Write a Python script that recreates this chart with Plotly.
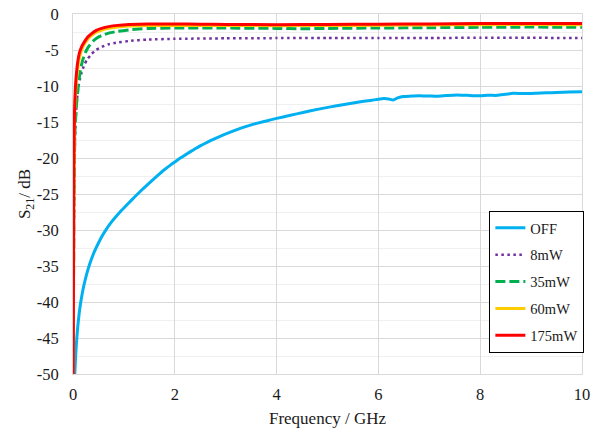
import plotly.graph_objects as go

# ---- data ----
off_f = [0.035, 0.045, 0.06, 0.075, 0.093, 0.11, 0.13, 0.16, 0.19, 0.22, 0.27, 0.32, 0.37, 0.42,
         0.48, 0.55, 0.65, 0.75, 0.85, 0.95, 1.08, 1.21, 1.34, 1.47, 1.6, 1.7, 1.8, 1.92, 2.0,
         2.1, 2.2, 2.3, 2.4, 2.5, 2.6, 2.7, 2.9, 3.09, 3.3, 3.55, 3.8, 4.0, 4.25, 4.54, 4.8,
         5.06, 5.3, 5.59, 5.84, 6.0, 6.1, 6.2, 6.29, 6.38, 6.49, 6.65, 6.8, 7.0, 7.15, 7.35,
         7.54, 7.75, 8.0, 8.15, 8.33, 8.5, 8.65, 8.85, 9.1, 9.3, 9.5, 9.75, 10.0]
off_db = [-50.0, -48.5, -46.5, -45.0, -43.5, -42.3, -41.1, -39.7, -38.5, -37.5, -36.1, -34.9,
          -33.9, -33.0, -32.1, -31.1, -29.95, -28.95, -28.1, -27.3, -26.35, -25.42, -24.52,
          -23.65, -22.82, -22.2, -21.6, -20.95, -20.55, -20.05, -19.6, -19.15, -18.72, -18.32,
          -17.95, -17.6, -16.95, -16.4, -15.85, -15.3, -14.85, -14.5, -14.1, -13.65, -13.25,
          -12.9, -12.6, -12.25, -12.0, -11.85, -11.75, -11.8, -11.95, -11.65, -11.45, -11.4,
          -11.35, -11.4, -11.42, -11.32, -11.25, -11.3, -11.35, -11.28, -11.3, -11.15, -11.02,
          -11.05, -11.0, -10.95, -10.9, -10.85, -10.8]

mw8_f = [0.005, 0.02, 0.04, 0.07, 0.1, 0.13, 0.17, 0.22, 0.28, 0.36, 0.45, 0.56, 0.7, 0.88,
         1.1, 1.47, 2.0, 3.0, 4.0, 5.0, 6.0, 7.0, 8.0, 9.0, 10.0]
mw8_db = [-50.0, -28.0, -17.0, -12.5, -10.4, -9.2, -8.1, -7.1, -6.3, -5.6, -5.0, -4.6, -4.2,
          -3.95, -3.75, -3.55, -3.45, -3.38, -3.35, -3.35, -3.33, -3.33, -3.3, -3.3, -3.35]

mw35_f = [0.005, 0.02, 0.04, 0.07, 0.1, 0.13, 0.16, 0.2, 0.26, 0.32, 0.39, 0.47, 0.56, 0.7,
          0.88, 1.1, 1.47, 2.0, 3.0, 4.0, 4.5, 5.0, 6.0, 7.0, 8.0, 9.0, 10.0]
mw35_db = [-50.0, -25.0, -16.0, -12.5, -10.3, -8.5, -7.3, -6.2, -5.1, -4.4, -3.8, -3.35, -3.0,
           -2.65, -2.4, -2.2, -2.0, -1.95, -1.95, -2.0, -2.05, -2.0, -1.95, -1.9, -1.85,
           -1.82, -1.85]

mw60_f = [0.005, 0.017, 0.035, 0.05, 0.07, 0.1, 0.13, 0.18, 0.23, 0.29, 0.36, 0.45, 0.56, 0.7,
          0.88, 1.1, 1.47, 2.0, 3.0, 4.0, 5.0, 6.0, 7.0, 8.0, 9.0, 10.0]
mw60_db = [-50.0, -23.0, -13.5, -11.0, -9.0, -7.2, -6.0, -4.8, -4.1, -3.5, -3.0, -2.55, -2.25,
           -2.0, -1.8, -1.68, -1.6, -1.58, -1.6, -1.62, -1.6, -1.57, -1.52, -1.48, -1.47, -1.48]

mw175_f = [0.005, 0.015, 0.03, 0.045, 0.065, 0.09, 0.13, 0.18, 0.23, 0.29, 0.36, 0.45, 0.56,
           0.7, 0.88, 1.1, 1.47, 2.0, 2.5, 3.0, 4.0, 5.0, 6.0, 7.0, 8.0, 9.0, 10.0]
mw175_db = [-50.0, -22.0, -13.5, -10.5, -8.5, -6.8, -5.3, -4.4, -3.8, -3.2, -2.75, -2.3, -2.0,
            -1.75, -1.58, -1.47, -1.38, -1.38, -1.42, -1.45, -1.48, -1.45, -1.42, -1.38, -1.33,
            -1.32, -1.33]

x_ticks = [0, 2, 4, 6, 8, 10]
y_ticks = [0, -5, -10, -15, -20, -25, -30, -35, -40, -45, -50]

FONT = "Liberation Serif, Times New Roman, serif"
TXT = "#1a1a1a"

fig = go.Figure()
fig.add_trace(go.Scatter(x=off_f, y=off_db, name="OFF", mode="lines", legendgroup="a",
                         line=dict(color="#00B0F0", width=3, shape="spline", smoothing=0.6)))
fig.add_trace(go.Scatter(x=mw8_f, y=mw8_db, name="8mW", mode="lines", legendgroup="b",
                         line=dict(color="#7030A0", width=2.5, dash="2.5px,3.5px",
                                   shape="spline", smoothing=0.5)))
fig.add_trace(go.Scatter(x=mw35_f, y=mw35_db, name="35mW", mode="lines", legendgroup="c",
                         line=dict(color="#00B050", width=3, dash="10px,4px",
                                   shape="spline", smoothing=0.5)))
fig.add_trace(go.Scatter(x=mw60_f, y=mw60_db, name="60mW", mode="lines", legendgroup="d",
                         line=dict(color="#FFCC00", width=3, shape="spline", smoothing=0.5)))
fig.add_trace(go.Scatter(x=mw175_f, y=mw175_db, name="175mW", mode="lines", legendgroup="e",
                         line=dict(color="#FF0000", width=3, shape="spline", smoothing=0.5)))

fig.update_layout(
    width=601, height=428,
    margin=dict(l=73, r=19, t=14, b=54),
    paper_bgcolor="white", plot_bgcolor="white",
    font=dict(family=FONT, size=16, color=TXT),
    showlegend=True,
    legend=dict(x=0.818, xanchor="left", y=0.453, yanchor="top",
                bordercolor="black", borderwidth=1, bgcolor="white",
                traceorder="grouped", tracegroupgap=5, itemwidth=30,
                font=dict(family=FONT, size=14.5, color=TXT)),
)
fig.update_xaxes(range=[0, 10], tickvals=x_ticks, ticktext=[str(v) for v in x_ticks],
                 showgrid=True, gridcolor="#d9d9d9", gridwidth=1, zeroline=False,
                 showline=True, linecolor="#d9d9d9", mirror=True, ticks="", automargin=False,
                 ticklabelstandoff=5,
                 title=dict(text="Frequency / GHz", font=dict(family=FONT, size=17, color=TXT),
                            standoff=12),
                 tickfont=dict(family=FONT, size=16.5, color=TXT))
fig.update_yaxes(range=[-50, 0], tickvals=y_ticks, ticktext=[str(v) for v in y_ticks],
                 showgrid=True, gridcolor="#d9d9d9", gridwidth=1, zeroline=False,
                 showline=True, linecolor="#d9d9d9", mirror=True, ticks="", automargin=False,
                 ticklabelstandoff=10,
                 minor=dict(dtick=2.5, showgrid=True, gridcolor="#f0f0f0", gridwidth=1),
                 title=dict(text="S<sub>21</sub>/ dB", font=dict(family=FONT, size=17, color=TXT),
                            standoff=0),
                 tickfont=dict(family=FONT, size=16.5, color=TXT))

# remove the default 8px page margin so the figure sits at the window origin
fig.write_html("out.html", config={"displayModeBar": False},
               post_script="document.body.style.margin='0';")
